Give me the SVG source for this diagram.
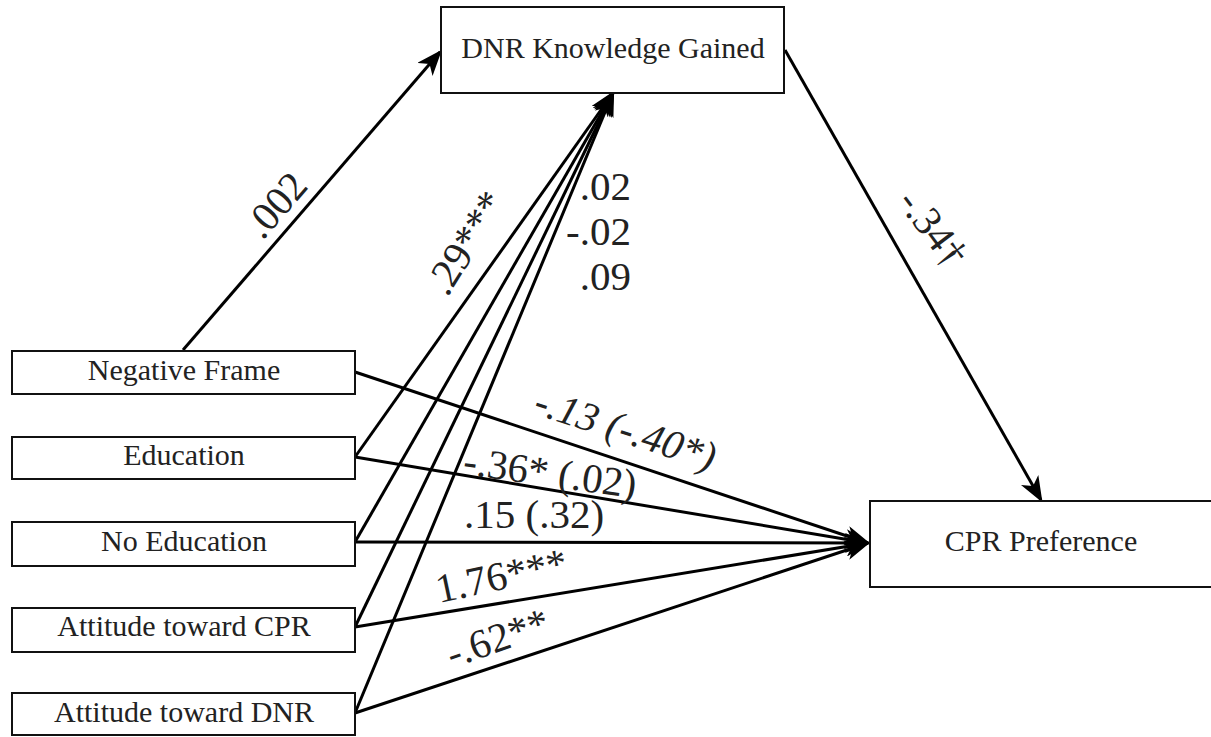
<svg xmlns="http://www.w3.org/2000/svg" width="1211" height="737" viewBox="0 0 1211 737">
<style>
.box{fill:#fff;stroke:#111;stroke-width:2}
.nt{font-family:'Liberation Serif','Times New Roman',serif;font-size:30px;fill:#222;text-anchor:middle}
.lb{font-family:'Liberation Serif','Times New Roman',serif;font-size:41px;fill:#222}
.it{font-style:italic}
.ln{stroke:#000;stroke-width:3;fill:none}
</style>
<defs>
<marker id="ah" viewBox="0 0 26 20" refX="23" refY="10" markerWidth="26" markerHeight="20" markerUnits="userSpaceOnUse" orient="auto">
<path d="M0,0 L26,10 L0,20 L7,10 Z" fill="#000"/>
</marker>
</defs>
<rect width="1211" height="737" fill="#fff"/>
<g id="connectors">
<line class="ln" x1="183" y1="350" x2="440" y2="52" marker-end="url(#ah)"/>
<line class="ln" x1="355" y1="457" x2="613" y2="93" marker-end="url(#ah)"/>
<line class="ln" x1="355" y1="542" x2="613" y2="93" marker-end="url(#ah)"/>
<line class="ln" x1="355" y1="627" x2="613" y2="93" marker-end="url(#ah)"/>
<line class="ln" x1="355" y1="713" x2="613" y2="93" marker-end="url(#ah)"/>
<line class="ln" x1="785" y1="50" x2="1041" y2="500" marker-end="url(#ah)"/>
<line class="ln" x1="355" y1="372" x2="868" y2="543" marker-end="url(#ah)"/>
<line class="ln" x1="355" y1="457" x2="868" y2="543" marker-end="url(#ah)"/>
<line class="ln" x1="355" y1="542" x2="868" y2="543" marker-end="url(#ah)"/>
<line class="ln" x1="355" y1="627" x2="868" y2="543" marker-end="url(#ah)"/>
<line class="ln" x1="355" y1="713" x2="868" y2="543" marker-end="url(#ah)"/>
</g>
<g id="labels">
<text class="lb" transform="translate(286,214) rotate(-49)" text-anchor="middle">.002</text>
<text class="lb" transform="translate(477,250) rotate(-58)" text-anchor="middle">.29***</text>
<text class="lb" x="631" y="200" text-anchor="end">.02</text>
<text class="lb" x="631" y="245" text-anchor="end">-.02</text>
<text class="lb" x="631" y="290" text-anchor="end">.09</text>
<text class="lb" transform="translate(922,236) rotate(53)" text-anchor="middle" font-size="36">-.34†</text>
<text class="lb it" transform="translate(532,413) rotate(18)">-.13 (-.40*)</text>
<text class="lb" transform="translate(462,474) rotate(8)">-.36* (.02)</text>
<text class="lb" x="464" y="528">.15 (.32)</text>
<text class="lb" transform="translate(439,603) rotate(-12)">1.76***</text>
<text class="lb" transform="translate(452,668) rotate(-19)">-.62**</text>
</g>
<g id="node-dnr">
<rect class="box" x="441" y="7" width="343" height="86"/>
<text class="nt" x="613" y="58">DNR Knowledge Gained</text>
</g>
<g id="node-cpr">
<rect class="box" x="870" y="501" width="350" height="86"/>
<text class="nt" x="1041" y="551">CPR Preference</text>
</g>
<g id="node-negative-frame">
<rect class="box" x="12" y="351" width="343" height="43"/>
<text class="nt" x="184" y="380">Negative Frame</text>
</g>
<g id="node-education">
<rect class="box" x="12" y="437" width="343" height="42"/>
<text class="nt" x="184" y="465">Education</text>
</g>
<g id="node-no-education">
<rect class="box" x="12" y="522" width="343" height="44"/>
<text class="nt" x="184" y="551">No Education</text>
</g>
<g id="node-attitude-cpr">
<rect class="box" x="12" y="608" width="343" height="44"/>
<text class="nt" x="184" y="636">Attitude toward CPR</text>
</g>
<g id="node-attitude-dnr">
<rect class="box" x="12" y="693" width="343" height="42"/>
<text class="nt" x="184" y="722">Attitude toward DNR</text>
</g>
</svg>
